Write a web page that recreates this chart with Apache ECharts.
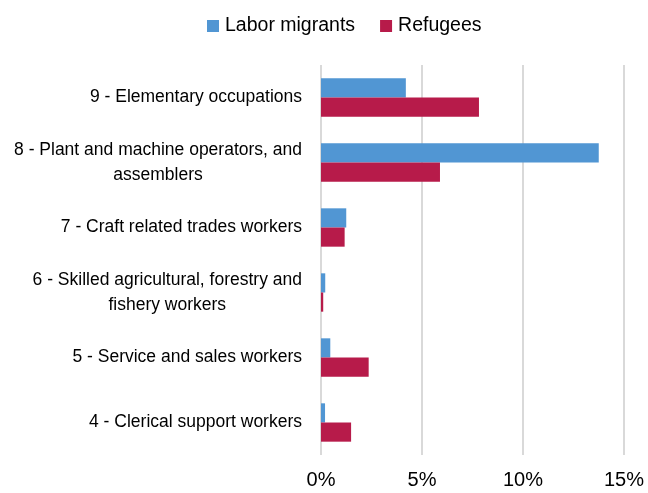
<!DOCTYPE html>
<html>
<head>
<meta charset="utf-8">
<script src="https://cdn.jsdelivr.net/npm/echarts@6/dist/echarts.min.js"></script>
<style>
html,body{margin:0;padding:0;background:#fff;}
#chart{width:648px;height:493px;}
</style>
</head>
<body>
<div id="chart"></div>
<script>
const categories = [
  "9 - Elementary occupations",
  "8 - Plant and machine operators, and\nassemblers",
  "7 - Craft related trades workers",
  "6 - Skilled agricultural, forestry and\nfishery workers",
  "5 - Service and sales workers",
  "4 - Clerical support workers"
];
const laborMigrants = [4.2, 13.75, 1.25, 0.21, 0.46, 0.2];
const refugees = [7.82, 5.89, 1.17, 0.11, 2.36, 1.49];
const xTicks = [0, 5, 10, 15];

const FONT = '"Liberation Sans", Arial, sans-serif';
const chart = echarts.init(document.getElementById('chart'), null, {renderer: 'canvas'});
chart.setOption({
  animation: false,
  backgroundColor: '#fff',
  textStyle: {fontFamily: FONT},
  legend: {
    top: 11,
    left: 202,
    itemWidth: 12,
    itemHeight: 12,
    itemGap: 25,
    icon: 'rect',
    textStyle: {fontFamily: FONT, fontSize: 19.5, color: '#000', padding: [0, 0, 0, 1]},
    data: ['Labor migrants', 'Refugees']
  },
  grid: {left: 321, right: 24, top: 65, bottom: 38, containLabel: false, outerBoundsMode: 'none'},
  xAxis: {
    type: 'value',
    min: xTicks[0],
    max: xTicks[xTicks.length - 1],
    interval: 5,
    axisLine: {show: false},
    axisTick: {show: false},
    splitLine: {show: true, lineStyle: {color: '#d9d9d9', width: 2}},
    axisLabel: {
      formatter: v => v + '%',
      fontFamily: FONT, fontSize: 20, color: '#000', margin: 15
    }
  },
  yAxis: {
    type: 'category',
    inverse: true,
    data: categories,
    axisLine: {show: false},
    axisTick: {show: false},
    axisLabel: {
      margin: 19,
      color: '#000',
      fontFamily: FONT,
      fontSize: 17.5,
      lineHeight: 25,
      formatter: v => v.split('\n').map(l => '{c|' + l + '}').join('\n'),
      rich: {c: {align: 'center', fontFamily: FONT, fontSize: 17.5, lineHeight: 25, color: '#000'}}
    }
  },
  series: [
    {
      name: 'Labor migrants', type: 'bar', data: laborMigrants,
      itemStyle: {color: '#5196D3'},
      barGap: '0%', barCategoryGap: '41%'
    },
    {
      name: 'Refugees', type: 'bar', data: refugees,
      itemStyle: {color: '#B71B4A'},
      barGap: '0%', barCategoryGap: '41%'
    }
  ]
});
</script>
</body>
</html>
